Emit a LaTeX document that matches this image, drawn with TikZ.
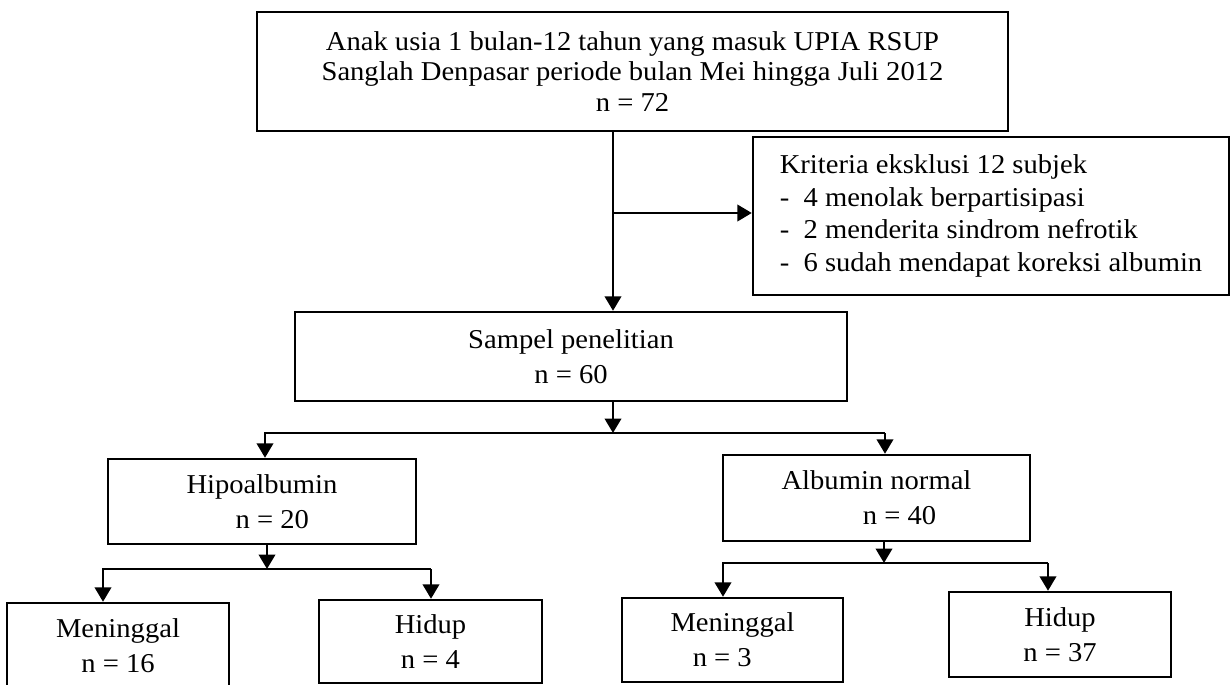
\documentclass[tikz,border=0pt]{standalone}
\usepackage{fontspec}
\setmainfont{Liberation Serif}[FakeStretch=1.05]
\usetikzlibrary{arrows.meta}
\tikzset{
  >={Triangle[length=2.9mm,width=3.3mm]},
  box/.style={draw,line width=1.4pt,align=center,inner sep=0pt,
    font=\fontsize{15.5pt}{19.8pt}\selectfont},
  flow/.style={->,line width=1.4pt},
}

\begin{document}
\begin{tikzpicture}[x=0.02cm,y=-0.02cm]
  \useasboundingbox (0,0) rectangle (1231,684);
  % population and exclusion
  \node[box,minimum width=15.02cm,minimum height=2.38cm,font=\fontsize{15.5pt}{17.6pt}\selectfont] (pop) at (632.5,71.5)
    {Anak usia 1 bulan-12 tahun yang masuk UPIA RSUP\\Sanglah Denpasar periode bulan Mei hingga Juli 2012\\n = 72};
  \node[box,align=left,minimum width=9.52cm,minimum height=3.16cm,font=\fontsize{15.5pt}{18.7pt}\selectfont] (excl) at (991,216)
    {Kriteria eksklusi 12 subjek\\-~~4 menolak berpartisipasi\\-~~2 menderita sindrom nefrotik\\-~~6 sudah mendapat koreksi albumin};
  \node[box,minimum width=11.04cm,minimum height=1.78cm] (sample) at (571,356.5) {Sampel penelitian\\n = 60};
  % albumin groups
  \node[box,minimum width=6.16cm,minimum height=1.70cm] (hipo) at (262,501.5) {Hipoalbumin\\\hspace*{0.75em}n = 20};
  \node[box,minimum width=6.14cm,minimum height=1.72cm] (norm) at (876.5,498) {Albumin normal\\\hspace*{1.7em}n = 40};
  % outcome
  \foreach \n/\x/\y/\w/\h/\t in {dead1/118/645.5/4.44/1.70/{Meninggal\\n = 16},alive1/430.5/641.5/4.46/1.66/{Hidup\\n = 4},
    dead2/732.5/640/4.42/1.68/{Meninggal\\n = 3\hspace*{0.75em}},alive2/1060/634.5/4.44/1.70/{Hidup\\n = 37}}
    \node[box,minimum width=\w cm,minimum height=\h cm] (\n) at (\x,\y) {\t};
  \coordinate (split) at (613,213);
  \coordinate (fork) at (613,433);
  \coordinate (forkL) at (265,433);
  \coordinate (forkR) at (885,433);
  \coordinate (hfork) at (267,569);
  \coordinate (hforkL) at (103,569);
  \coordinate (hforkR) at (431,569);
  \coordinate (nfork) at (884,563);
  \coordinate (nforkL) at (723,563);
  \coordinate (nforkR) at (1048,563);
  \draw[flow] (pop.south -| split) -- (split |- sample.north);
  \draw[flow] (split) -- (split -| excl.west);
  \draw[flow] (sample.south -| fork) -- (fork);
  \draw[flow] (forkR) -- (forkL) -- (forkL |- hipo.north);
  \draw[flow] (forkR) -- (forkR |- norm.north);
  \draw[flow] (hipo.south -| hfork) -- (hfork);
  \draw[flow] (hforkR) -- (hforkL) -- (hforkL |- dead1.north);
  \draw[flow] (hforkR) -- (hforkR |- alive1.north);
  \draw[flow] (norm.south -| nfork) -- (nfork);
  \draw[flow] (nforkR) -- (nforkL) -- (nforkL |- dead2.north);
  \draw[flow] (nforkR) -- (nforkR |- alive2.north);
\end{tikzpicture}
\end{document}
